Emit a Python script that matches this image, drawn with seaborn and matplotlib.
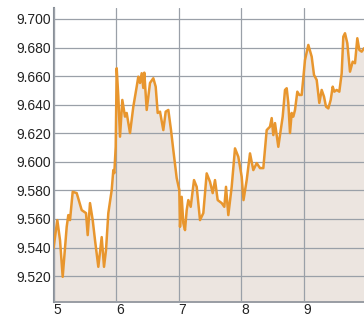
import matplotlib
matplotlib.use("Agg")
import matplotlib.pyplot as plt
import seaborn as sns
import pandas as pd

# values
x_vals = [5.000, 5.061, 5.104, 5.147, 5.211, 5.237, 5.264, 5.307, 5.371, 5.451,
          5.520, 5.547, 5.584, 5.627, 5.664, 5.717, 5.771, 5.808, 5.840, 5.877,
          5.931, 5.957, 5.973, 5.995, 6.011, 6.037, 6.064, 6.101, 6.144, 6.171,
          6.224, 6.277, 6.331, 6.357, 6.384, 6.411, 6.437, 6.453, 6.491, 6.544,
          6.597, 6.635, 6.667, 6.704, 6.757, 6.795, 6.837, 6.880, 6.917, 6.971,
          7.013, 7.024, 7.051, 7.077, 7.104, 7.131, 7.157, 7.195, 7.248, 7.291,
          7.344, 7.397, 7.451, 7.504, 7.547, 7.584, 7.627, 7.691, 7.733, 7.760,
          7.797, 7.851, 7.904, 7.957, 8.011, 8.040, 8.091, 8.144, 8.197, 8.251,
          8.304, 8.357, 8.411, 8.464, 8.491, 8.517, 8.544, 8.597, 8.624, 8.667,
          8.704, 8.731, 8.757, 8.784, 8.811, 8.837, 8.864, 8.901, 8.933, 8.971,
          8.997, 9.024, 9.077, 9.131, 9.168, 9.211, 9.253, 9.291, 9.328, 9.360,
          9.397, 9.435, 9.467, 9.493, 9.531, 9.573, 9.611, 9.637, 9.664, 9.701,
          9.744, 9.787, 9.824, 9.861, 9.893, 9.931, 9.968]
y_vals = [9.5396, 9.5592, 9.5452, 9.5195, 9.5545, 9.5627, 9.5592, 9.5790, 9.5781, 9.5662,
          9.5641, 9.5487, 9.5711, 9.5592, 9.5452, 9.5265, 9.5473, 9.5265, 9.5382, 9.5641,
          9.5802, 9.5942, 9.5921, 9.6105, 9.6655, 9.6456, 9.6176, 9.6433, 9.6316, 9.6342,
          9.6201, 9.6386, 9.6526, 9.6596, 9.6552, 9.6620, 9.6517, 9.6624, 9.6363, 9.6552,
          9.6585, 9.6526, 9.6342, 9.6351, 9.6222, 9.6351, 9.6363, 9.6222, 9.6082, 9.5886,
          9.5802, 9.5545, 9.5755, 9.5571, 9.5522, 9.5662, 9.5732, 9.5685, 9.5872, 9.5825,
          9.5592, 9.5641, 9.5919, 9.5860, 9.5781, 9.5872, 9.5732, 9.5711, 9.5685, 9.5825,
          9.5627, 9.5825, 9.6094, 9.6035, 9.5895, 9.5732, 9.5872, 9.6059, 9.5942, 9.5991,
          9.5956, 9.5956, 9.6222, 9.6246, 9.6306, 9.6187, 9.6271, 9.6105, 9.6187, 9.6316,
          9.6503, 9.6515, 9.6412, 9.6201, 9.6342, 9.6316, 9.6363, 9.6491, 9.6468, 9.6468,
          9.6587, 9.6713, 9.6818, 9.6736, 9.6608, 9.6573, 9.6412, 9.6503, 9.6456, 9.6386,
          9.6374, 9.6433, 9.6526, 9.6491, 9.6503, 9.6491, 9.6620, 9.6876, 9.6900, 9.6830,
          9.6631, 9.6701, 9.6690, 9.6865, 9.6783, 9.6771, 9.6795]
x_ticks = [5, 6, 7, 8, 9]
y_ticks = [9.52, 9.54, 9.56, 9.58, 9.60, 9.62, 9.64, 9.66, 9.68, 9.70]

df = pd.DataFrame({"x": x_vals, "y": y_vals})

sns.set_style("white")
plt.rcParams["font.family"] = ["Liberation Sans", "DejaVu Sans"]

fig = plt.figure(figsize=(3.64, 3.18), dpi=100)
ax = fig.add_axes([0.147, 0.05, 0.853, 0.925])

y_min, y_max = 9.5018, 9.7077
ax.fill_between(df["x"], df["y"], y_min, color="#ECE5E0", lw=0, zorder=1)
sns.lineplot(data=df, x="x", y="y", color="#E8962E", lw=1.8, ax=ax, zorder=3)

ax.set_xlim(5, 9.968)
ax.set_ylim(y_min, y_max)
ax.set_xticks(x_ticks)
ax.set_yticks(y_ticks)
ax.set_xticklabels([str(t) for t in x_ticks], ha="left")
ax.set_yticklabels([f"{t:.3f}" for t in y_ticks])
ax.tick_params(length=0, labelsize=10, colors="#222222", pad=2)
ax.tick_params(axis="x", pad=0.5)
ax.set_xlabel("")
ax.set_ylabel("")

ax.grid(True, color="#9AA0A8", lw=0.9, zorder=2)
ax.set_axisbelow(False)
for s in ["top", "right"]:
    ax.spines[s].set_visible(False)
ax.spines["left"].set_color("#8A9098")
ax.spines["left"].set_linewidth(1.5)
ax.spines["bottom"].set_color("#8A9098")
ax.spines["bottom"].set_linewidth(1.2)

fig.savefig("out.png", dpi=100)
